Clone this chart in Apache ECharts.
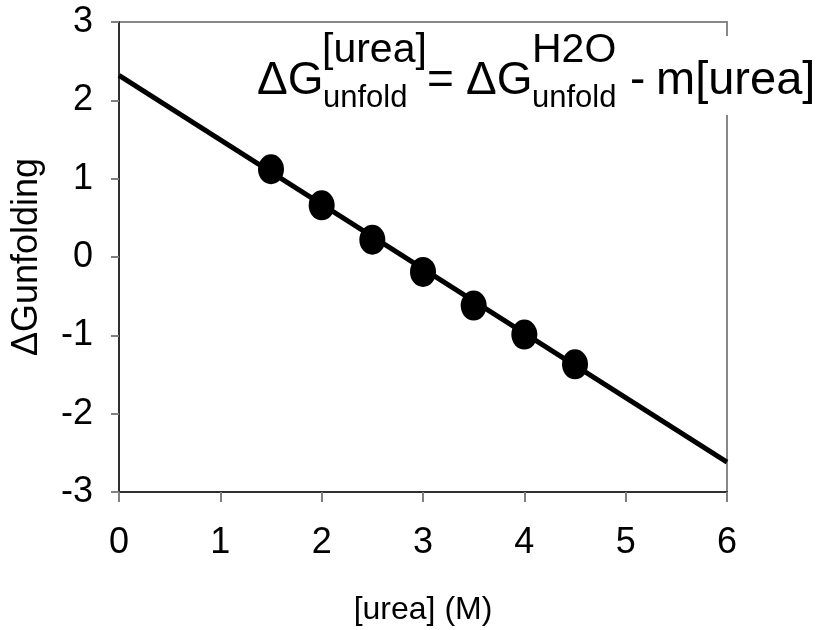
<!DOCTYPE html>
<html>
<head>
<meta charset="utf-8">
<script src="https://cdn.jsdelivr.net/npm/echarts@6.0.0/dist/echarts.min.js"></script>
<style>
  html, body { margin: 0; padding: 0; background: #fff; }
  #chart { width: 830px; height: 630px; }
</style>
</head>
<body>
<div id="chart"></div>
<script>
// data
const ureaM = [1.5, 2, 2.5, 3, 3.5, 4, 4.5]
const dGunfold = [1.12, 0.66, 0.22, -0.19, -0.62, -0.99, -1.37]
// linear fit, drawn across the full x range
const fitX = [0, 6]
const fitY = [2.32, -2.62]

const font = '"Liberation Sans", Arial, sans-serif'

const chart = echarts.init(document.getElementById('chart'))

// equation label pieces: [text, x, y, size]
const eq = [
  ['ΔG', 257, 81, 46],
  ['[urea]', 322, 51, 41],
  ['unfold', 323, 98, 31],
  ['=', 427, 81, 46],
  ['ΔG', 466, 81, 46],
  ['H2O', 532, 51, 41],
  ['unfold', 532, 98, 31],
  ['-', 630, 81, 46],
  ['m[urea]', 656, 81, 47]
]

const option = {
  animation: false,
  grid: {
    left: 119, right: 103, top: 22, bottom: 138,
    containLabel: false,
    outerBoundsMode: 'none',
    show: true,
    borderColor: '#888',
    borderWidth: 2
  },
  xAxis: {
    type: 'value',
    min: 0, max: 6, interval: 1,
    name: '[urea] (M)',
    nameLocation: 'middle',
    nameGap: 102,
    nameTextStyle: { color: '#000', fontSize: 32, fontFamily: font },
    axisLine: { show: true, onZero: false, lineStyle: { color: '#303030', width: 2 } },
    axisTick: { show: true, length: 10, lineStyle: { color: '#808080', width: 2 } },
    axisLabel: { color: '#000', fontSize: 36, fontFamily: font, margin: 33 },
    splitLine: { show: false }
  },
  yAxis: {
    type: 'value',
    min: -3, max: 3, interval: 1,
    name: 'ΔGunfolding',
    nameLocation: 'middle',
    nameGap: 74,
    nameTextStyle: { color: '#000', fontSize: 36, fontFamily: font },
    axisLine: { show: true, onZero: false, lineStyle: { color: '#303030', width: 2 } },
    axisTick: { show: true, length: 8, lineStyle: { color: '#808080', width: 2 } },
    axisLabel: { color: '#000', fontSize: 36, fontFamily: font, margin: 26 },
    splitLine: { show: false }
  },
  series: [
    {
      type: 'line',
      data: fitX.map((x, i) => [x, fitY[i]]),
      symbol: 'none',
      lineStyle: { color: '#000', width: 5 },
      z: 2
    },
    {
      type: 'scatter',
      data: ureaM.map((x, i) => [x, dGunfold[i]]),
      symbol: 'circle',
      symbolSize: [26, 30],
      itemStyle: { color: '#000', opacity: 1 },
      z: 3
    }
  ],
  graphic: [
    {
      type: 'rect',
      shape: { x: 245, y: 36, width: 580, height: 79 },
      style: { fill: '#fff' },
      z: 100
    }
  ].concat(eq.map(([t, x, y, s]) => ({
    type: 'text',
    x: x, y: y,
    style: {
      text: t,
      fill: '#000',
      font: s + 'px ' + font,
      textAlign: 'left',
      textVerticalAlign: 'middle'
    },
    z: 101
  })))
}

chart.setOption(option)
</script>
</body>
</html>
